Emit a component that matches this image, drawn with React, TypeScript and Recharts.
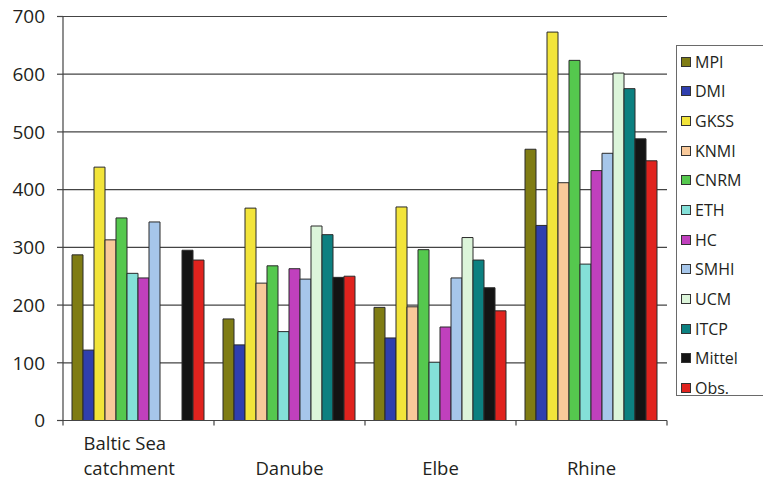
import {
  BarChart,
  Bar,
  XAxis,
  YAxis,
  CartesianGrid,
} from "recharts";

// Regions along the x axis ("\n" marks a wrapped label)
const BASINS = ["Baltic Sea\ncatchment", "Danube", "Elbe", "Rhine"];

// One value per basin, in BASINS order (null = no run for that basin)
const MPI = [287, 176, 196, 470];
const DMI = [122, 131, 143, 338];
const GKSS = [439, 368, 370, 673];
const KNMI = [313, 238, 197, 412];
const CNRM = [351, 268, 296, 624];
const ETH = [255, 154, 101, 271];
const HC = [247, 263, 162, 433];
const SMHI = [344, 245, 247, 463];
const UCM = [null, 337, 317, 602];
const ITCP = [null, 322, 278, 575];
const MITTEL = [295, 248, 230, 488];
const OBS = [278, 250, 190, 450];

const Y_TICKS = [0, 100, 200, 300, 400, 500, 600, 700];

const SERIES = [
  { name: "MPI", values: MPI, color: "#7f7c14" },
  { name: "DMI", values: DMI, color: "#2f3fae" },
  { name: "GKSS", values: GKSS, color: "#f2e43a" },
  { name: "KNMI", values: KNMI, color: "#f8c99a" },
  { name: "CNRM", values: CNRM, color: "#55c84e" },
  { name: "ETH", values: ETH, color: "#84e0d8" },
  { name: "HC", values: HC, color: "#c040bd" },
  { name: "SMHI", values: SMHI, color: "#a6c6ea" },
  { name: "UCM", values: UCM, color: "#dcf5da" },
  { name: "ITCP", values: ITCP, color: "#0c8080" },
  { name: "Mittel", values: MITTEL, color: "#141414" },
  { name: "Obs.", values: OBS, color: "#e0231e" },
];

const data = BASINS.map((basin, i) => {
  const row: Record<string, string | number | null> = { basin };
  SERIES.forEach((s) => {
    row[s.name] = s.values[i];
  });
  return row;
});

const FONT = "'Open Sans', sans-serif";
const INK = "#231f20";
const LINE = "#444";

/* eslint-disable @typescript-eslint/no-explicit-any */
// Category label plus the short tick marks that sit on the band edges
function BasinTick({ x, y, payload, width, visibleTicksCount, index }: any) {
  const lines = String(payload.value).split("\n");
  const wrapped = lines.length > 1;
  const half =
    width && visibleTicksCount ? width / visibleTicksCount / 2 : 0;
  const edges = index === visibleTicksCount - 1 ? [-half, half] : [-half];
  return (
    <g>
      {half > 0 &&
        edges.map((d) => (
          <line
            key={d}
            x1={x + d}
            x2={x + d}
            y1={y}
            y2={y + 5}
            stroke={LINE}
            strokeWidth={1.2}
          />
        ))}
      {lines.map((line, i) => (
        <text
          key={i}
          x={wrapped ? x - 55 : x}
          y={y + 54 - (lines.length - 1 - i) * 25}
          textAnchor={wrapped ? "start" : "middle"}
          fontSize={18.5}
          fontFamily={FONT}
          fill={INK}
        >
          {line}
        </text>
      ))}
    </g>
  );
}
/* eslint-enable @typescript-eslint/no-explicit-any */

function ModelLegend() {
  return (
    <div
      style={{
        position: "absolute",
        left: 676,
        top: 45,
        width: 110,
        height: 351,
        border: "1px solid #6a6a6a",
        boxSizing: "border-box",
        paddingTop: 1,
        fontFamily: FONT,
        fontSize: 16,
        color: INK,
      }}
    >
      {SERIES.map((s) => (
        <div
          key={s.name}
          style={{
            height: 29.66,
            display: "flex",
            alignItems: "center",
          }}
        >
          <span
            style={{
              display: "inline-block",
              width: 8,
              height: 8,
              marginLeft: 4,
              marginRight: 4,
              background: s.color,
              border: "1px solid #333",
            }}
          />
          <span>{s.name}</span>
        </div>
      ))}
    </div>
  );
}

export default function App() {
  return (
    <div
      style={{
        position: "relative",
        width: 763,
        height: 481,
        overflow: "hidden",
        background: "#fff",
      }}
    >
      <style>{"body{margin:0}"}</style>
      <BarChart
        width={763}
        height={481}
        data={data}
        margin={{ top: 16.5, right: 96, bottom: 0, left: 0 }}
        barCategoryGap={9}
        barGap={0}
      >
        <CartesianGrid vertical={false} stroke={LINE} strokeWidth={1.2} />
        <XAxis
          dataKey="basin"
          tick={<BasinTick />}
          tickLine={false}
          tickSize={0}
          tickMargin={0}
          axisLine={{ stroke: LINE, strokeWidth: 1.2 }}
          height={60.5}
          interval={0}
        />
        <YAxis
          domain={[0, 700]}
          ticks={Y_TICKS}
          width={63}
          tickSize={6}
          tickMargin={12}
          axisLine={{ stroke: LINE, strokeWidth: 1.2 }}
          tickLine={{ stroke: LINE, strokeWidth: 1.2 }}
          tick={{ fontSize: 19, fontFamily: FONT, fill: INK }}
        />
        <YAxis
          yAxisId="frame"
          orientation="right"
          domain={[0, 700]}
          width={0}
          tick={false}
          tickLine={false}
          axisLine={{ stroke: LINE, strokeWidth: 1.2 }}
        />
        {SERIES.map((s) => (
          <Bar
            key={s.name}
            dataKey={s.name}
            fill={s.color}
            stroke="#2a2a2a"
            strokeWidth={1}
            isAnimationActive={false}
          />
        ))}
      </BarChart>
      <ModelLegend />
    </div>
  );
}
